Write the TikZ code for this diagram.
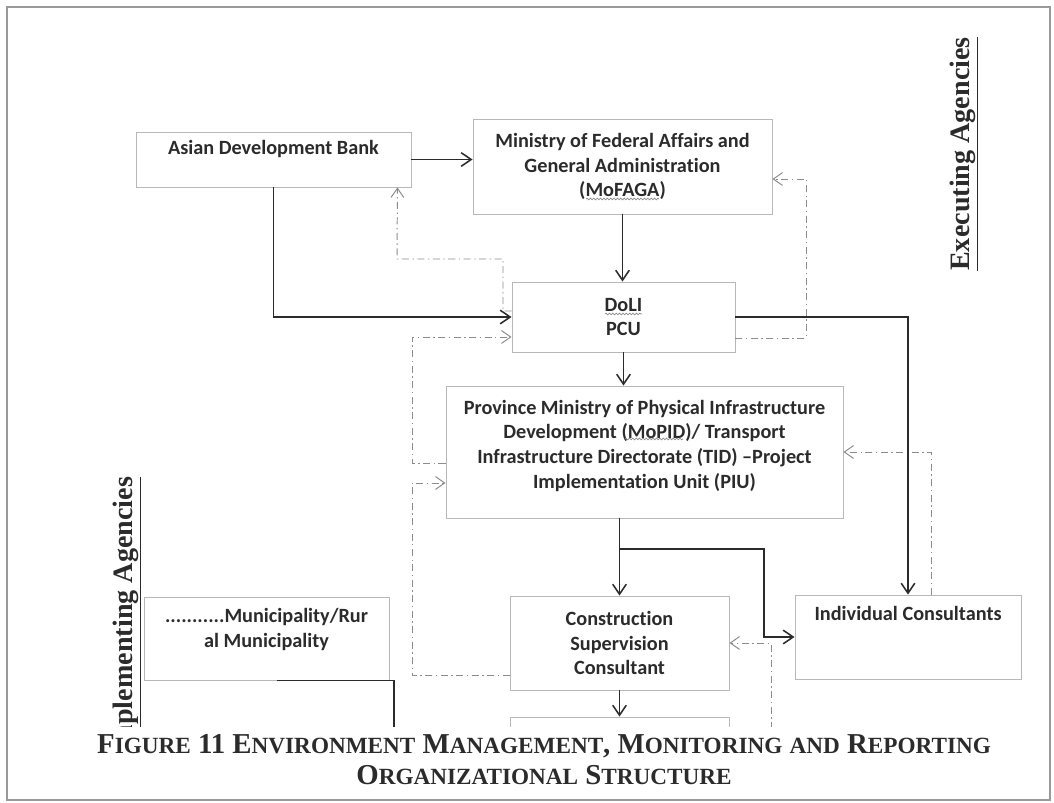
\documentclass[tikz,border=0pt]{standalone}
\usepackage{fontspec}
\setmainfont{Liberation Serif}
\newfontfamily\boxfont[Ligatures=NoCommon]{Carlito}
\usepackage{xcolor}
\usetikzlibrary{arrows.meta}
\usetikzlibrary{decorations.pathmorphing}

\definecolor{boxgray}{HTML}{B8B8B8}
\definecolor{inkgray}{HTML}{2B2B2B}
\definecolor{dotgray}{HTML}{8C8C8C}
\definecolor{framegray}{HTML}{9A9A9A}

\newcommand{\lowcaps}[1]{{\fontsize{16.5}{22}\selectfont #1}}

\begin{document}
\begin{tikzpicture}[x=0.025cm, y=-0.025cm,
  agency/.style={draw=boxgray, line width=0.6pt, text=inkgray, align=center, inner sep=1pt,
    font=\boxfont\bfseries\fontsize{14.4}{17.7}\selectfont},
  paths/.style={-{Straight Barb[length=2.5mm, width=3.4mm]}, draw=inkgray, line width=1.1pt},
  plainline/.style={draw=inkgray, line width=1.1pt},
  returns/.style={-{Straight Barb[length=2.3mm, width=3.2mm]}, draw=dotgray, line width=0.7pt,
    dash pattern=on 5pt off 2.5pt on 1pt off 2.5pt},
  squiggle/.style={draw=dotgray, line width=0.5pt, decorate,
    decoration={snake, amplitude=0.6pt, segment length=2.4pt}},
  sidetitle/.style={rotate=90, text=inkgray, font=\bfseries\fontsize{20}{24}\selectfont}]

 \useasboundingbox (0,0) rectangle (1054,803);


 \node [agency, minimum width=6.875cm, minimum height=1.375cm, text depth=17pt] (bank) at (273.5,159.5)
     {Asian Development Bank};

 \node [agency, minimum width=7.475cm, minimum height=2.375cm] (ministry_fed) at (622.5,166.5)
     {Ministry of Federal Affairs and\\ General Administration\\ (MoFAGA)};

 \node [agency, minimum width=5.575cm, minimum height=1.75cm] (doli_pcu) at (623.5,317)
     {DoLI\\ PCU};

 \node [agency, minimum width=9.925cm, minimum height=3.3cm, text depth=11pt] (province_piu) at (644.5,452)
     {Province Ministry of Physical Infrastructure\\ Development (MoPID)/ Transport\\ Infrastructure Directorate (TID) –Project\\ Implementation Unit (PIU)};

 \node [agency, minimum width=5.475cm, minimum height=2.35cm] (supervision) at (619.5,643)
     {Construction\\ Supervision\\ Consultant};

 \node [agency, minimum width=5.65cm, minimum height=2.1cm, text depth=34pt] (individual) at (908,637)
     {Individual Consultants};

 \node [agency, minimum width=6.125cm, minimum height=2.075cm, text depth=15pt] (municipality) at (266.5,638.5)
     {...........Municipality/Rur\\ al Municipality};

 \node [agency, minimum width=5.475cm, minimum height=1.6cm] (lower_box) at (619.5,749)
     {};

 \coordinate (split) at (619.5,549);
 \coordinate (elbow) at (764,549);
 \coordinate (muni_drop) at (394,760);
 \coordinate (lower_out) at (771,760);

 % spell-check marks under the acronyms
 \draw [squiggle] (586,199) -- (659,199);
 \draw [squiggle] (605,314) -- (642,314);
 \draw [squiggle] (625,439) -- (683,439);


 % reporting lines (dash-dot)
 \draw [returns] (doli_pcu.west |- 0,311) -- (503,311) |- (397,259) -- ([xshift=-0.35cm]bank.south east);
 \draw [returns] (province_piu.west |- 0,463) -- (412,463) |- (doli_pcu.west |- 0,337);
 \draw [returns] (supervision.west |- 0,675) -- (412,675) |- (province_piu.west |- 0,483);
 \draw [returns] (doli_pcu.east |- 0,338) -- (806,338) |- (ministry_fed.east |- 0,179);
 \draw [returns] (individual.north -| 931,0) |- (province_piu.east);
 \draw [returns] (lower_out) |- (supervision.east);

 % command lines
 \draw [paths] (bank.east) -- (bank.east -| ministry_fed.west);
 \draw [paths] (bank.south) |- (doli_pcu.west);
 \draw [paths] (ministry_fed.south) -- (ministry_fed.south |- doli_pcu.north);
 \draw [paths] (doli_pcu.south) -- (doli_pcu.south |- province_piu.north);
 \draw [paths] (doli_pcu.east) -| (individual.north);
 \draw [paths] (province_piu.south -| supervision.north) -- (supervision.north);
 \draw [paths] (split) -- (elbow) |- (individual.west);
 \draw [paths] (supervision.south) -- (lower_box.north);
 \draw [plainline] ([xshift=0.26cm]municipality.south) -| (muni_drop);


 \node [sidetitle] (exec_title) at (964,154)
     {\underline{Executing Agencies}};

 \node [sidetitle] (impl_title) at (127,618)
     {\underline{Implementing Agencies}};


 \fill [white] (8,727) rectangle (1049,799);

 \node [align=center, text=inkgray, font=\bfseries\fontsize{20.5}{22}\selectfont] (caption) at (544,760)
     {F\lowcaps{IGURE} 11 E\lowcaps{NVIRONMENT} M\lowcaps{ANAGEMENT}, M\lowcaps{ONITORING} \lowcaps{AND} R\lowcaps{EPORTING}\\
      O\lowcaps{RGANIZATIONAL} S\lowcaps{TRUCTURE}};

 \draw [framegray, line width=0.8pt] (7,7) rectangle (1050,800);

 \end{tikzpicture}
\end{document}
